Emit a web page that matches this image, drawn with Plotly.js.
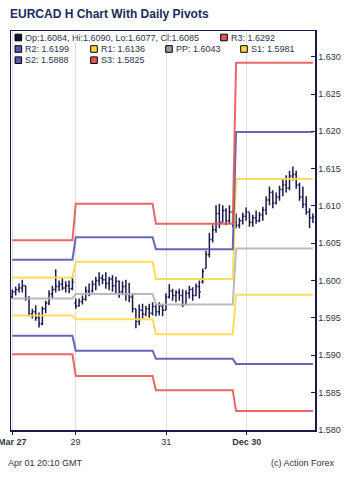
<!DOCTYPE html>
<html>
<head>
<meta charset="utf-8">
<script src="https://cdn.plot.ly/plotly-3.0.1.min.js"></script>
<style>html,body{margin:0;padding:0;background:#fff;}#chart{width:350px;height:481px;}</style>
</head>
<body>
<div id="chart"></div>
<script>
// ---- Data (hourly bars, index 0..90) ----
const barOpen = [
1.5978,1.5985,1.5988,1.5990,1.5993,1.5976,1.5955,1.5958,1.5950,1.5942,1.5962,1.5970,1.5982,1.5988,1.5992,1.5995,1.5990,1.5993,1.5989,
1.5970,1.5966,1.5972,1.5975,1.5986,1.5986,1.5995,1.6000,1.6003,1.6001,1.5996,1.6002,1.5993,1.5999,1.5985,1.5992,1.5982,1.5978,1.5962,1.5945,1.5960,1.5955,1.5962,1.5956,
1.5965,1.5958,1.5966,1.5960,1.5978,1.5986,1.5980,1.5984,1.5980,1.5968,1.5983,1.5988,1.5980,1.5992,1.5998,1.6016,1.6035,1.6055,1.6068,1.6090,1.6078,1.6094,1.6080,1.6092,
1.6078,1.6074,1.6080,1.6086,1.6092,1.6078,1.6084,1.6080,1.6088,1.6095,1.6108,1.6118,1.6104,1.6112,1.6122,1.6128,1.6124,1.6140,1.6142,1.6128,1.6112,1.6102,1.6092,1.6084
];
const barHigh = [
1.5988,1.5992,1.5996,1.6001,1.5993,1.5979,1.5962,1.5967,1.5957,1.5965,1.5973,1.5987,1.5993,1.6015,1.6000,1.6003,1.5999,1.6000,1.6005,
1.5976,1.5976,1.5980,1.5992,1.5996,1.6000,1.6005,1.6011,1.6008,1.6011,1.6005,1.6007,1.6005,1.6000,1.5999,1.6001,1.5997,1.5983,1.5962,1.5968,1.5969,1.5966,1.5969,1.5971,
1.5969,1.5971,1.5968,1.5983,1.5995,1.5989,1.5987,1.5989,1.5988,1.5987,1.5993,1.5991,1.5996,1.6000,1.6016,1.6040,1.6064,1.6075,1.6101,1.6103,1.6101,1.6097,1.6101,1.6094,
1.6090,1.6084,1.6091,1.6098,1.6091,1.6088,1.6094,1.6092,1.6099,1.6113,1.6126,1.6121,1.6118,1.6127,1.6137,1.6141,1.6147,1.6153,1.6147,1.6131,1.6126,1.6113,1.6097,1.6090
];
const barLow = [
1.5976,1.5980,1.5984,1.5984,1.5973,1.5952,1.5949,1.5946,1.5937,1.5940,1.5956,1.5967,1.5976,1.5984,1.5986,1.5987,1.5984,1.5983,1.5987,
1.5962,1.5965,1.5968,1.5973,1.5979,1.5984,1.5987,1.5993,1.5995,1.5989,1.5987,1.5985,1.5983,1.5977,1.5981,1.5973,1.5971,1.5957,1.5936,1.5940,1.5949,1.5952,1.5950,1.5953,
1.5952,1.5953,1.5952,1.5960,1.5976,1.5973,1.5971,1.5973,1.5964,1.5969,1.5976,1.5973,1.5979,1.5976,1.5996,1.6016,1.6031,1.6051,1.6064,1.6070,1.6078,1.6074,1.6076,1.6072,
1.6070,1.6070,1.6075,1.6080,1.6072,1.6072,1.6076,1.6078,1.6080,1.6088,1.6101,1.6097,1.6102,1.6107,1.6113,1.6118,1.6121,1.6134,1.6123,1.6107,1.6097,1.6088,1.6070,1.6077
];
const barClose = [
1.5985,1.5988,1.5990,1.5993,1.5976,1.5955,1.5958,1.5950,1.5942,1.5962,1.5970,1.5982,1.5988,1.5992,1.5995,1.5990,1.5993,1.5989,1.5998,
1.5966,1.5972,1.5975,1.5986,1.5982,1.5995,1.6000,1.6003,1.6001,1.5996,1.6002,1.5993,1.5999,1.5985,1.5992,1.5982,1.5978,1.5962,1.5945,1.5960,1.5955,1.5962,1.5956,1.5965,
1.5958,1.5966,1.5960,1.5978,1.5986,1.5980,1.5984,1.5980,1.5968,1.5983,1.5988,1.5980,1.5992,1.5985,1.6012,1.6035,1.6055,1.6068,1.6090,1.6078,1.6094,1.6080,1.6092,1.6078,
1.6074,1.6080,1.6086,1.6092,1.6078,1.6084,1.6080,1.6088,1.6095,1.6108,1.6118,1.6104,1.6112,1.6122,1.6128,1.6124,1.6140,1.6142,1.6128,1.6112,1.6102,1.6092,1.6084,1.6085
];

// first bar index of each daily pivot session
const dayStart = [0, 19, 43, 67];

// daily pivot levels (one value per session)
const pivotR3 = [1.6054, 1.6103, 1.6076, 1.6292];
const pivotR2 = [1.6028, 1.6058, 1.6042, 1.6199];
const pivotR1 = [1.6004, 1.6025, 1.6002, 1.6136];
const pivotPP = [1.5976, 1.5982, 1.5968, 1.6043];
const pivotS1 = [1.5953, 1.5948, 1.5928, 1.5981];
const pivotS2 = [1.5926, 1.5906, 1.5895, 1.5888];
const pivotS3 = [1.5901, 1.5872, 1.5853, 1.5825];

const tickVals = [0, 18.9, 46.1, 70.2];
const tickText = ['<b>Mar 27</b>', '29', '31', '<b>Dec 30</b>'];

// ---- Build ----
const FONT = 'Liberation Sans, Arial, sans-serif';
const NAVY = '#1a1a4a';
const C_RED = '#e65757', C_BLUE = '#5757b0', C_YEL = '#ffd84a', C_GRAY = '#b4b4b4';

const xIdx = barOpen.map((_, i) => i);
function dayOf(i) { let d = 0; for (let k = 0; k < dayStart.length; k++) if (i >= dayStart[k]) d = k; return d; }

function pivotTrace(levels, color) {
  return {
    type: 'scatter', mode: 'lines', x: xIdx,
    y: xIdx.map(i => levels[dayOf(i)]),
    line: { color: color, width: 2 }, hoverinfo: 'skip', opacity: 0.9
  };
}

const traces = [
  pivotTrace(pivotPP, C_GRAY),
  pivotTrace(pivotS1, C_YEL),
  pivotTrace(pivotR1, C_YEL),
  pivotTrace(pivotS2, C_BLUE),
  pivotTrace(pivotR2, C_BLUE),
  pivotTrace(pivotS3, C_RED),
  pivotTrace(pivotR3, C_RED),
  {
    type: 'ohlc', x: xIdx, open: barOpen, high: barHigh, low: barLow, close: barClose,
    increasing: { line: { color: NAVY, width: 1.5 } },
    decreasing: { line: { color: NAVY, width: 1.5 } },
    tickwidth: 0.4, hoverinfo: 'skip'
  }
];

const last = barOpen.length - 1;
const d = dayStart.length - 1;
const f4 = v => v.toFixed(4);
const legendItems = [
  { row: 0, sq: 4, tx: 13, color: '#141433', text: 'Op:' + f4(barOpen[last]) + ', Hi:' + f4(barHigh[last]) + ', Lo:' + f4(barLow[last]) + ', Cl:' + f4(barClose[last]) },
  { row: 0, sq: 209.7, tx: 219, color: C_RED, text: 'R3: ' + f4(pivotR3[d]) },
  { row: 1, sq: 4, tx: 13, color: C_BLUE, text: 'R2: ' + f4(pivotR2[d]) },
  { row: 1, sq: 79.7, tx: 89, color: C_YEL, text: 'R1: ' + f4(pivotR1[d]) },
  { row: 1, sq: 154.7, tx: 164, color: '#999999', text: 'PP: ' + f4(pivotPP[d]) },
  { row: 1, sq: 229.7, tx: 239, color: C_YEL, text: 'S1: ' + f4(pivotS1[d]) },
  { row: 2, sq: 4, tx: 13, color: C_BLUE, text: 'S2: ' + f4(pivotS2[d]) },
  { row: 2, sq: 79.7, tx: 89, color: C_RED, text: 'S3: ' + f4(pivotS3[d]) }
];
const rowOff = [6.5, 18, 29.2];
const TXT = '#2e3150';

const shapes = [], annotations = [];
legendItems.forEach(it => {
  const r = rowOff[it.row];
  shapes.push({
    type: 'rect', xref: 'paper', yref: 'paper', xsizemode: 'pixel', ysizemode: 'pixel',
    xanchor: 0, yanchor: 1, x0: it.sq, x1: it.sq + 6.6, y0: -(r - 3.3), y1: -(r + 3.3),
    fillcolor: it.color, line: { color: '#000000', width: 1 }
  });
  annotations.push({
    xref: 'paper', yref: 'paper', x: 0, y: 1, xanchor: 'left', yanchor: 'middle',
    xshift: it.tx - 1, yshift: -r, text: it.text, showarrow: false,
    font: { family: FONT, size: 9, color: TXT }
  });
});
annotations.push({
  xref: 'paper', yref: 'paper', x: 0, y: 0, xanchor: 'left', yanchor: 'middle',
  xshift: -5, yshift: -32.5, text: 'Apr 01 20:10 GMT', showarrow: false,
  font: { family: FONT, size: 9, color: TXT }
});
annotations.push({
  xref: 'paper', yref: 'paper', x: 1, y: 0, xanchor: 'right', yanchor: 'middle',
  xshift: 22, yshift: -32.5, text: '(c) Action Forex', showarrow: false,
  font: { family: FONT, size: 9, color: TXT }
});

const layout = {
  width: 350, height: 481,
  margin: { l: 11, r: 35, t: 31, b: 51, pad: 0 },
  paper_bgcolor: '#ffffff', plot_bgcolor: '#ffffff',
  showlegend: false,
  title: {
    text: '<b>EURCAD H Chart With Daily Pivots</b>',
    font: { family: FONT, size: 12, color: '#1c2b5a' },
    xref: 'container', yref: 'container', x: 10 / 350, xanchor: 'left',
    y: 1 - 14 / 481, yanchor: 'middle'
  },
  xaxis: {
    range: [-0.39, 90.63], tickmode: 'array', tickvals: tickVals, ticktext: tickText,
    showgrid: true, gridcolor: '#dddddd', gridwidth: 1, zeroline: false,
    showline: true, mirror: true, linecolor: NAVY, linewidth: 1.5,
    ticks: 'outside', ticklen: 3, tickcolor: NAVY, tickwidth: 1,
    tickfont: { family: FONT, size: 9, color: '#333344' },
    ticklabeloverflow: 'allow', fixedrange: true, rangeslider: { visible: false }
  },
  yaxis: {
    side: 'right', range: [1.57996, 1.63345], tickmode: 'linear', tick0: 1.58, dtick: 0.005,
    tickformat: '.3f', showgrid: false, zeroline: false,
    showline: true, mirror: true, linecolor: NAVY, linewidth: 1.5,
    ticks: 'inside', ticklen: 4, tickcolor: NAVY, tickwidth: 1,
    tickfont: { family: FONT, size: 9, color: '#333344' },
    ticklabeloverflow: 'allow', fixedrange: true
  },
  shapes: shapes,
  annotations: annotations
};

Plotly.newPlot('chart', traces, layout, { displayModeBar: false, staticPlot: true });
</script>
</body>
</html>
